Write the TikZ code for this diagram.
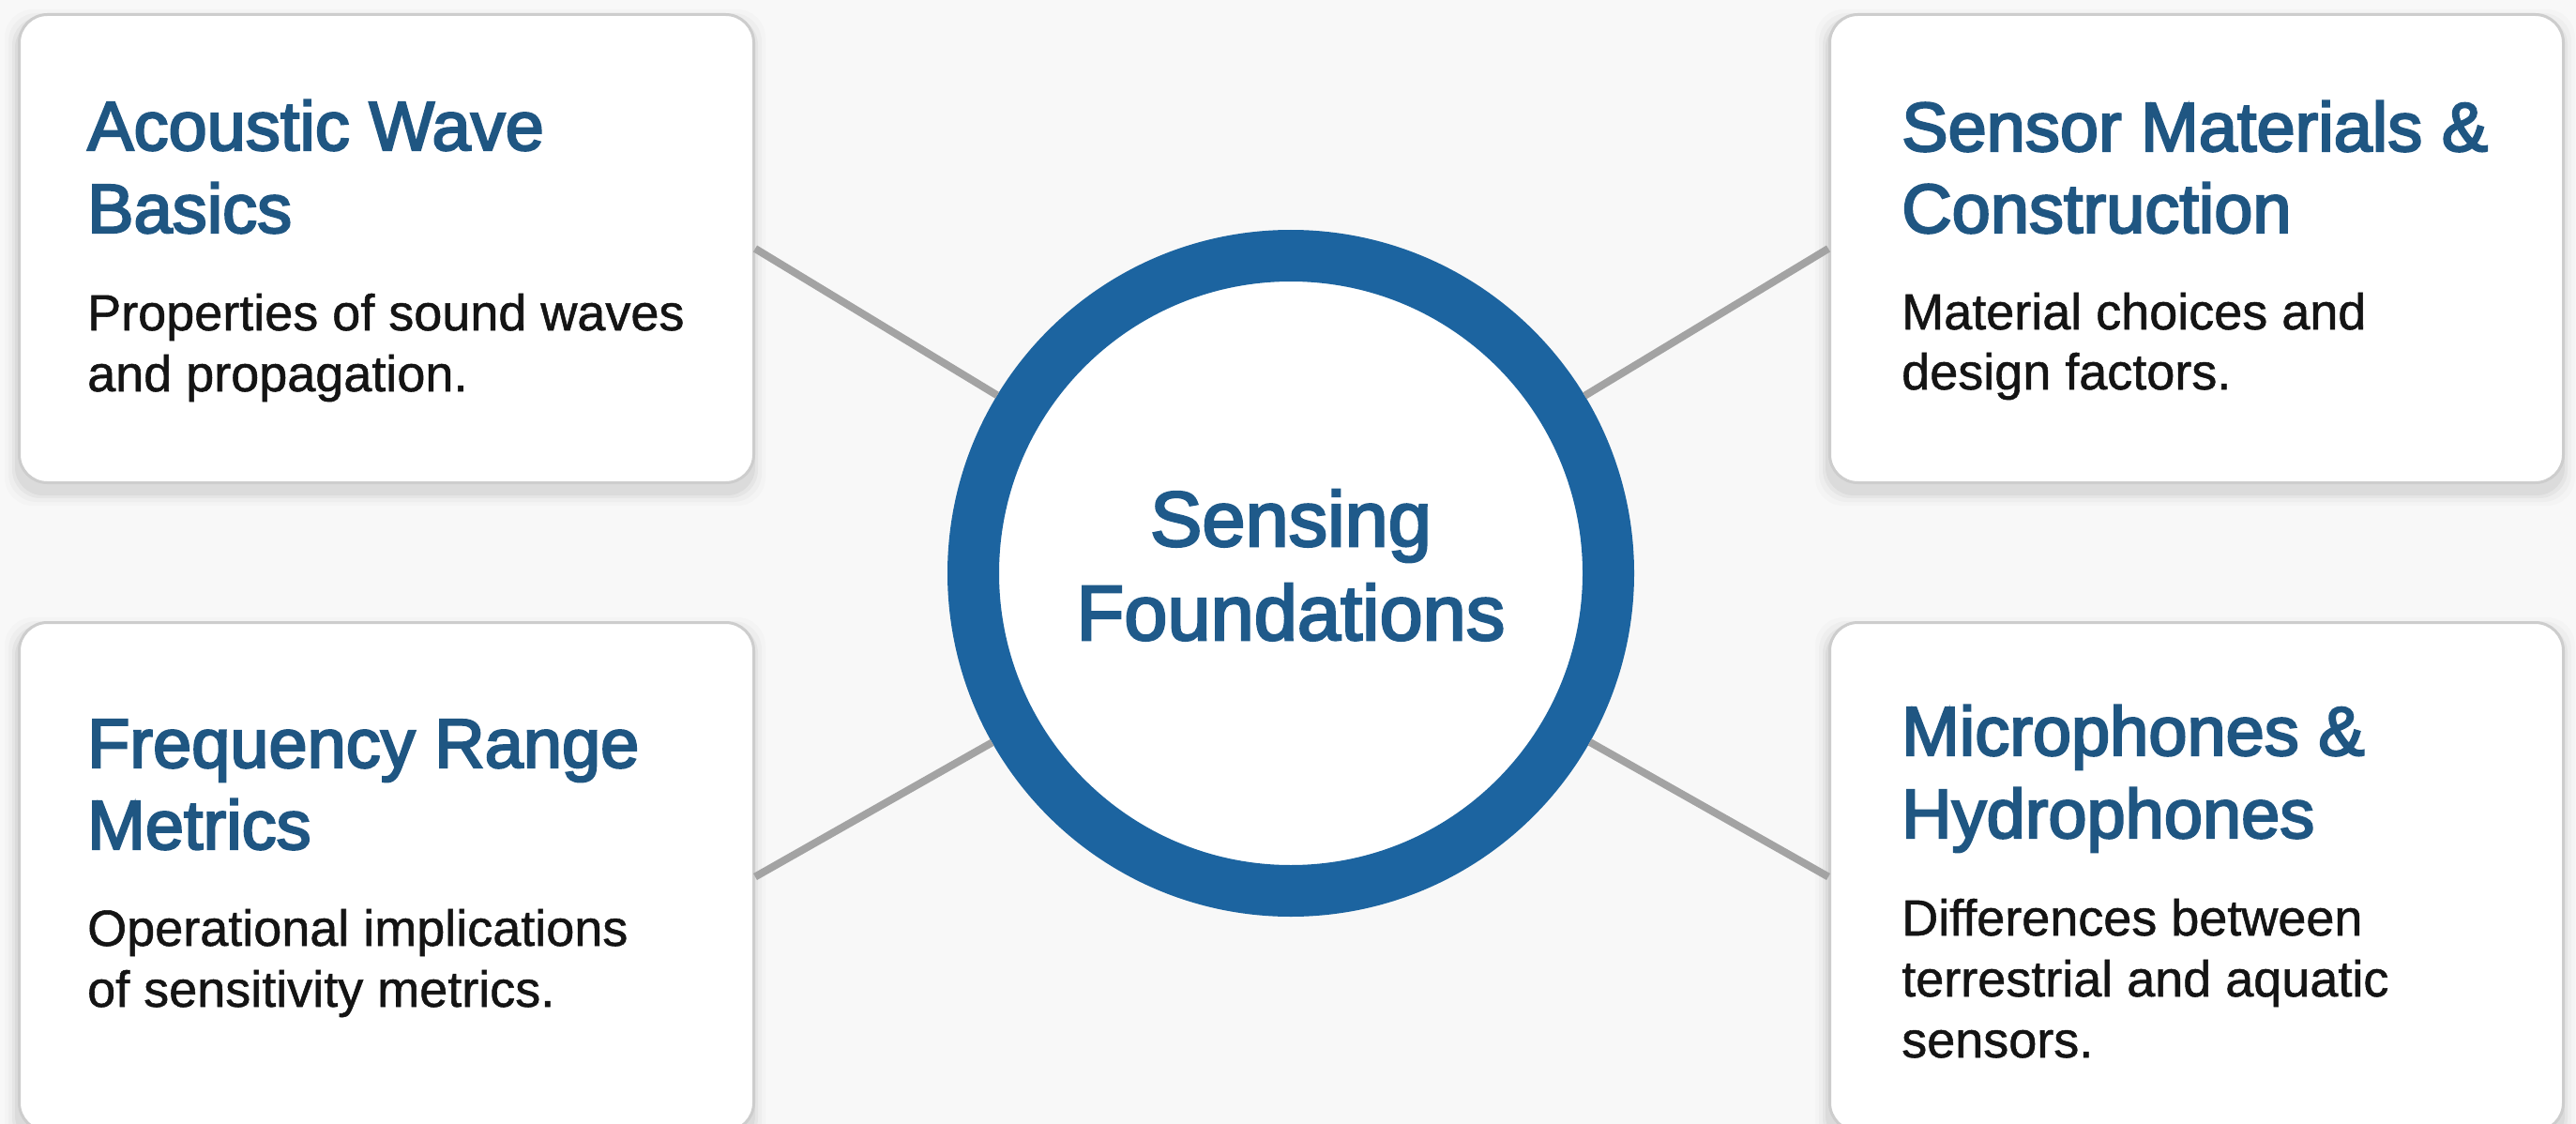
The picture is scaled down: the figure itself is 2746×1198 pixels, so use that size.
\documentclass[tikz,border=0pt]{standalone}
\usepackage{fontspec}
\setmainfont{Liberation Sans}
\newfontfamily\medfont{Liberation Sans}[FakeBold=3]
\newfontfamily\bodyfont{Liberation Sans}[FakeBold=1]
\definecolor{bgc}{HTML}{F8F8F8}
\definecolor{boxline}{HTML}{CDCDCD}
\definecolor{titleblue}{HTML}{1F5682}
\definecolor{ringblue}{HTML}{1C64A0}
\definecolor{centerblue}{HTML}{1F5A8A}
\definecolor{bodyc}{HTML}{141414}
\definecolor{connc}{HTML}{A3A3A3}
\begin{document}
\begin{tikzpicture}[x=1pt,y=-1pt,
  cardbox/.style={draw=boxline, line width=3pt, fill=white, rounded corners=30pt, inner sep=0pt, anchor=north west},
  titletxt/.style={anchor=base west, inner sep=0pt, text=titleblue, font=\medfont\fontsize{74}{88}\selectfont},
  bodytxt/.style={anchor=base west, inner sep=0pt, text=bodyc, font=\bodyfont\fontsize{54}{65}\selectfont},
  centertxt/.style={anchor=base, inner sep=0pt, text=centerblue, font=\medfont\fontsize{83}{100}\selectfont},
  conn/.style={draw=connc, line width=8pt},
  hub/.style={circle, draw=ringblue, line width=55pt, fill=white, minimum size=677pt, inner sep=0pt}
]
\useasboundingbox (0,0) rectangle (2746,1198);
\fill[bgc] (0,0) rectangle (2746,1198);
% soft shadows
\foreach \r/\op in {14/0.015,10/0.025,6/0.035,3/0.045}{
  \fill[black, opacity=\op, rounded corners=30pt] (19-\r,14+10-\r) rectangle (802+\r,513+12+\r);
  \fill[black, opacity=\op, rounded corners=30pt] (1949-\r,14+10-\r) rectangle (2731+\r,513+12+\r);
  \fill[black, opacity=\op, rounded corners=30pt] (19-\r,662+10-\r) rectangle (802+\r,1204+12+\r);
  \fill[black, opacity=\op, rounded corners=30pt] (1949-\r,662+10-\r) rectangle (2731+\r,1204+12+\r);
}
% cards
\node[cardbox, minimum width=783pt, minimum height=499pt] (tl) at (19,14) {};
\node[cardbox, minimum width=782pt, minimum height=499pt] (tr) at (1949,14) {};
\node[cardbox, minimum width=783pt, minimum height=542pt] (bl) at (19,662) {};
\node[cardbox, minimum width=782pt, minimum height=542pt] (br) at (1949,662) {};
% hub
\node[hub] (c) at (1376,611) {};
\node[centertxt] (ct1) at (1376,582) {Sensing};
\node[centertxt] (ct2) at (1376,682) {Foundations};
% connectors
\draw[conn] (tl.east) -- (c);
\draw[conn] (tr.west) -- (c);
\draw[conn] (bl.east) -- (c);
\draw[conn] (br.west) -- (c);
% top left text
\node[titletxt] (tl1) at (93,160) {Acoustic Wave};
\node[titletxt] (tl2) at (93,248) {Basics};
\node[bodytxt] (tl3) at (93,352) {Properties of sound waves};
\node[bodytxt] (tl4) at (93,417) {and propagation.};
% top right text
\node[titletxt] (tr1) at (2027,161) {Sensor Materials \&};
\node[titletxt] (tr2) at (2027,248) {Construction};
\node[bodytxt] (tr3) at (2027,351) {Material choices and};
\node[bodytxt] (tr4) at (2027,415) {design factors.};
% bottom left text
\node[titletxt] (bl1) at (93,818) {Frequency Range};
\node[titletxt] (bl2) at (93,905) {Metrics};
\node[bodytxt] (bl3) at (93,1008) {Operational implications};
\node[bodytxt] (bl4) at (93,1073) {of sensitivity metrics.};
% bottom right text
\node[titletxt] (br1) at (2027,805) {Microphones \&};
\node[titletxt] (br2) at (2027,893) {Hydrophones};
\node[bodytxt] (br3) at (2027,997) {Differences between};
\node[bodytxt] (br4) at (2027,1062) {terrestrial and aquatic};
\node[bodytxt] (br5) at (2027,1127) {sensors.};
\end{tikzpicture}
\end{document}
